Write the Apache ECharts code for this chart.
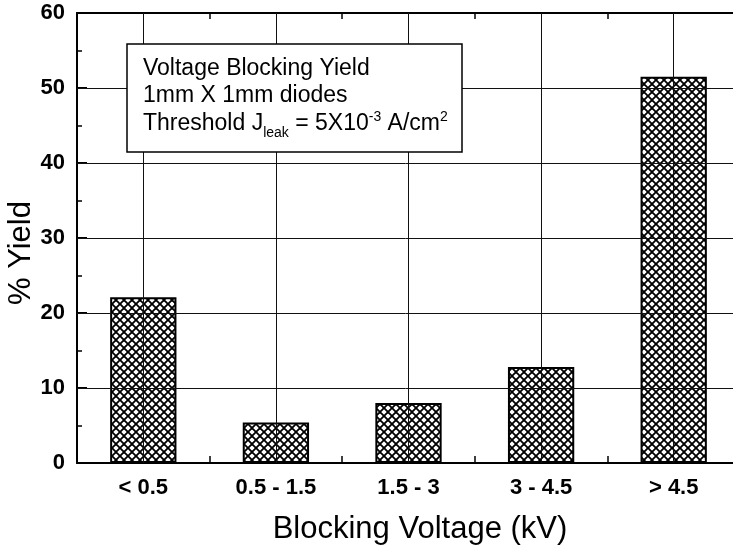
<!DOCTYPE html>
<html><head><meta charset="utf-8">
<script src="https://cdn.jsdelivr.net/npm/echarts@6/dist/echarts.min.js"></script>
<style>html,body{margin:0;padding:0;background:#fff}#c{width:733px;height:549px}</style>
</head><body><div id="c"></div>
<script>
const categories = ['< 0.5', '0.5 - 1.5', '1.5 - 3', '3 - 4.5', '> 4.5'];
const yieldValues = [22.1, 5.4, 8.0, 12.8, 51.5];
const yTicks = [0, 10, 20, 30, 40, 50, 60];
const gridValues = [10, 20, 30, 40, 50];
const xTitle = 'Blocking Voltage (kV)';
const yTitle = '% Yield';

const F = 'Arial, "Liberation Sans", sans-serif';

// crosshatch pattern
const pc = document.createElement('canvas');
pc.width = 8; pc.height = 8;
const g = pc.getContext('2d');
g.fillStyle = '#fff'; g.fillRect(0, 0, 8, 8);
g.strokeStyle = '#000'; g.lineWidth = 1.8;
g.beginPath();
g.moveTo(-1, -1); g.lineTo(9, 9);
g.moveTo(-1, 9); g.lineTo(9, -1);
g.moveTo(-5, 3); g.lineTo(5, 13);
g.moveTo(3, -5); g.lineTo(13, 5);
g.moveTo(-5, 5); g.lineTo(5, -5);
g.moveTo(3, 13); g.lineTo(13, 3);
g.stroke();

const chart = echarts.init(document.getElementById('c'), null, {renderer: 'canvas'});
const markData = categories.map(c => ({xAxis: c})).concat(gridValues.map(v => ({yAxis: v})));
chart.setOption({
  animation: false,
  backgroundColor: '#fff',
  grid: {left: 77, top: 13, width: 663, height: 450, containLabel: false, outerBoundsMode: 'none'},
  xAxis: [{
    type: 'category', data: categories, boundaryGap: true,
    axisLine: {lineStyle: {color: '#000', width: 2}},
    axisTick: {show: true, inside: true, length: 7, lineStyle: {color: '#000', width: 1.5}},
    axisLabel: {color: '#000', fontFamily: F, fontWeight: 'bold', fontSize: 22, margin: 14},
    splitLine: {show: false}
  }, {
    type: 'category', data: categories, position: 'top', boundaryGap: true,
    axisLine: {lineStyle: {color: '#000', width: 2}},
    axisTick: {show: true, inside: true, length: 6, lineStyle: {color: '#000', width: 1.5}},
    axisLabel: {show: false}, splitLine: {show: false}
  }],
  yAxis: [{
    type: 'value', min: 0, max: 60, interval: 10,
    axisLine: {show: true, lineStyle: {color: '#000', width: 2}},
    axisTick: {show: true, inside: true, length: 10, lineStyle: {color: '#000', width: 2}},
    minorTick: {show: true, splitNumber: 2, length: 5, lineStyle: {color: '#000', width: 1.5}},
    axisLabel: {color: '#000', fontFamily: F, fontWeight: 'bold', fontSize: 22, margin: 12,
      formatter: v => yTicks.includes(v) ? String(v) : ''},
    splitLine: {show: false}
  }],
  series: [{
    type: 'bar', data: yieldValues, barWidth: '50%',
    itemStyle: {color: {image: pc, repeat: 'repeat'}, borderColor: '#000', borderWidth: 2},
    markLine: {
      silent: true, symbol: 'none', label: {show: false},
      lineStyle: {color: '#111', width: 1, type: 'solid'},
      data: markData
    }
  }],
  graphic: [
    {type: 'text', x: 420, y: 529, style: {text: xTitle, font: '31px ' + F, fill: '#000', align: 'center', verticalAlign: 'middle'}},
    {type: 'text', x: 21, y: 253, rotation: Math.PI / 2, style: {text: yTitle, font: '31px ' + F, fill: '#000', align: 'center', verticalAlign: 'middle'}},
    {type: 'rect', z: 1000, zlevel: 1, shape: {x: 127, y: 44, width: 335, height: 108},
     style: {fill: '#fff', stroke: '#000', lineWidth: 1.5}},
    {type: 'text', z: 1001, zlevel: 1, x: 143, y: 57, style: {text: 'Voltage Blocking Yield', font: '23px ' + F, fill: '#000'}},
    {type: 'text', z: 1001, zlevel: 1, x: 143, y: 84, style: {text: '1mm X 1mm diodes', font: '23px ' + F, fill: '#000'}},
    {type: 'text', z: 1001, zlevel: 1, x: 143, y: 108, style: {
      text: 'Threshold J{sub|leak} = 5X10{sup|-3} A/cm{sup|2}',
      font: '23px ' + F, fill: '#000',
      rich: {
        sub: {fontSize: 14, fontFamily: F, padding: [18, 0, 0, 0], fill: '#000'},
        sup: {fontSize: 14, fontFamily: F, padding: [0, 0, 14, 0], fill: '#000'}
      }
    }}
  ]
});
</script></body></html>
